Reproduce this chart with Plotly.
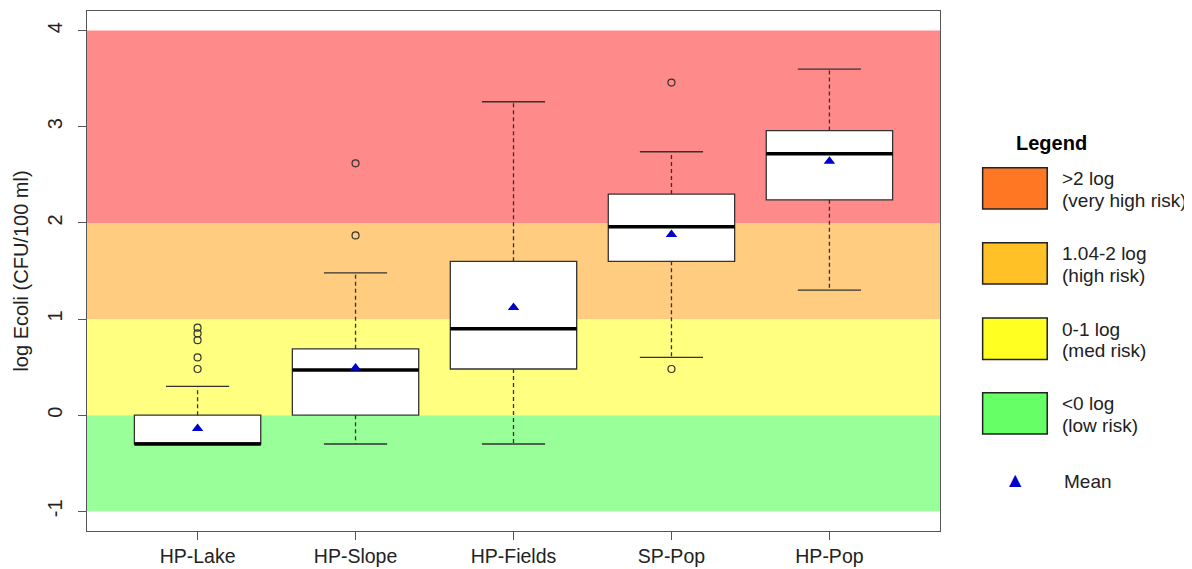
import plotly.graph_objects as go

# ---- data ----
sites = ["HP-Lake", "HP-Slope", "HP-Fields", "SP-Pop", "HP-Pop"]
q1 = [-0.30, 0.00, 0.48, 1.60, 2.24]
median = [-0.30, 0.47, 0.90, 1.96, 2.72]
q3 = [0.00, 0.69, 1.60, 2.30, 2.96]
whisker_low = [-0.30, -0.30, -0.30, 0.60, 1.30]
whisker_high = [0.30, 1.48, 3.26, 2.74, 3.60]
means = [-0.14, 0.49, 1.12, 1.88, 2.64]
outlier_site = ["HP-Lake", "HP-Lake", "HP-Lake", "HP-Lake", "HP-Lake",
                "HP-Slope", "HP-Slope", "SP-Pop", "SP-Pop"]
outlier_value = [0.48, 0.60, 0.78, 0.85, 0.91, 1.87, 2.62, 0.48, 3.46]

band_low = [-1, 0, 1, 2]
band_high = [0, 1, 2, 4]
band_colors = ["#99FF99", "#FFFF80", "#FFCC80", "#FF8A8A"]

legend_labels = [(">2 log", "(very high risk)"), ("1.04-2 log", "(high risk)"),
                 ("0-1 log", "(med risk)"), ("<0 log", "(low risk)")]
legend_colors = ["#FF7722", "#FFC125", "#FFFF22", "#66FF66"]

FONT = "Liberation Sans, Arial, sans-serif"
BOX_W = 0.8
CAP_W = 0.4
pos = list(range(1, len(sites) + 1))
pos_of = {s: p for s, p in zip(sites, pos)}

fig = go.Figure()

# boxes
for p, a, m, b in zip(pos, q1, median, q3):
    fig.add_trace(go.Box(
        x=[p], q1=[a], median=[m], q3=[b], lowerfence=[a], upperfence=[b],
        width=BOX_W, fillcolor="white", line=dict(color="#333333", width=1.3),
        boxpoints=False, showlegend=False, hoverinfo="skip"))

# whiskers (dashed) and caps (solid)
wx, wy, cx, cy, mx, my = [], [], [], [], [], []
for p, lo, a, m, b, hi in zip(pos, whisker_low, q1, median, q3, whisker_high):
    wx += [p, p, None, p, p, None]
    wy += [b, hi, None, a, lo, None]
    cx += [p - CAP_W / 2, p + CAP_W / 2, None, p - CAP_W / 2, p + CAP_W / 2, None]
    cy += [hi, hi, None, lo, lo, None]
    mx += [p - BOX_W / 2, p + BOX_W / 2, None]
    my += [m, m, None]

fig.add_trace(go.Scatter(x=wx, y=wy, mode="lines",
                         line=dict(color="#333333", width=1.3, dash="4px,3px"),
                         showlegend=False, hoverinfo="skip"))
fig.add_trace(go.Scatter(x=cx, y=cy, mode="lines",
                         line=dict(color="#333333", width=1.3),
                         showlegend=False, hoverinfo="skip"))
fig.add_trace(go.Scatter(x=mx, y=my, mode="lines",
                         line=dict(color="black", width=3.5),
                         showlegend=False, hoverinfo="skip"))

# outliers
fig.add_trace(go.Scatter(x=[pos_of[s] for s in outlier_site], y=outlier_value,
                         mode="markers",
                         marker=dict(symbol="circle-open", size=7,
                                     color="#333333", line=dict(width=1.2)),
                         showlegend=False))

# means
fig.add_trace(go.Scatter(x=pos, y=means, mode="markers",
                         marker=dict(symbol="triangle-up", size=10, color="#0000CC"),
                         showlegend=False))

# risk bands
shapes = []
for lo, hi, col in zip(band_low, band_high, band_colors):
    shapes.append(dict(type="rect", xref="paper", yref="y", x0=0, x1=1,
                       y0=lo, y1=hi, fillcolor=col, line=dict(width=0),
                       layer="below"))

# custom legend (paper coords)
annotations = [dict(text="<b>Legend</b>", xref="paper", yref="paper",
                    x=1.131, y=0.7458, xanchor="center", yanchor="middle",
                    showarrow=False, font=dict(size=20, color="black", family=FONT))]
sw_top = [0.6987, 0.5542, 0.4094, 0.2657]
sw_h = 0.0794
for top, col, (l1, l2) in zip(sw_top, legend_colors, legend_labels):
    shapes.append(dict(type="rect", xref="paper", yref="paper",
                       x0=1.050, x1=1.1257, y0=top - sw_h, y1=top,
                       fillcolor=col, line=dict(color="#222222", width=1.5)))
    annotations.append(dict(text=l1, xref="paper", yref="paper", x=1.1406,
                            y=top - 0.021, xanchor="left", yanchor="middle",
                            showarrow=False,
                            font=dict(size=19, color="#222222", family=FONT)))
    annotations.append(dict(text=l2, xref="paper", yref="paper", x=1.1406,
                            y=top - 0.063, xanchor="left", yanchor="middle",
                            showarrow=False,
                            font=dict(size=19, color="#222222", family=FONT)))
annotations.append(dict(text="Mean", xref="paper", yref="paper", x=1.1435,
                        y=0.0958, xanchor="left", yanchor="middle", showarrow=False,
                        font=dict(size=19, color="#222222", family=FONT)))
annotations.append(dict(text="▲", xref="paper", yref="paper", x=1.089,
                        y=0.0985, xanchor="center", yanchor="middle",
                        showarrow=False,
                        font=dict(size=16, color="#0000CC",
                                  family="DejaVu Sans, sans-serif")))

# the page body has an 8px margin: size the figure to fit the 1192x569 window
fig.update_layout(
    width=1184, height=561,
    margin=dict(l=79, r=252, t=2, b=37),
    paper_bgcolor="white", plot_bgcolor="white",
    font=dict(family=FONT, size=19, color="#222222"),
    showlegend=False,
    shapes=shapes, annotations=annotations,
    xaxis=dict(range=[0.3, 5.7], tickmode="array", tickvals=pos, ticktext=sites,
               ticks="outside", ticklen=8, tickcolor="#555555",
               showline=True, mirror=True, linecolor="#555555", linewidth=1,
               showgrid=False, zeroline=False,
               tickfont=dict(size=19.5, color="#222222")),
    yaxis=dict(range=[-1.205, 4.204], tickmode="array",
               tickvals=[-1, 0, 1, 2, 3, 4], ticktext=["-1", "0", "1", "2", "3", "4"],
               ticks="outside", ticklen=8, tickcolor="#555555", tickangle=-90,
               ticklabelstandoff=8,
               showline=True, mirror=True, linecolor="#555555", linewidth=1,
               showgrid=False, zeroline=False,
               tickfont=dict(size=20, color="#222222"),
               title=dict(text="log Ecoli (CFU/100 ml)", standoff=10,
                          font=dict(size=20, color="#222222"))),
)

fig.write_html("out.html")
